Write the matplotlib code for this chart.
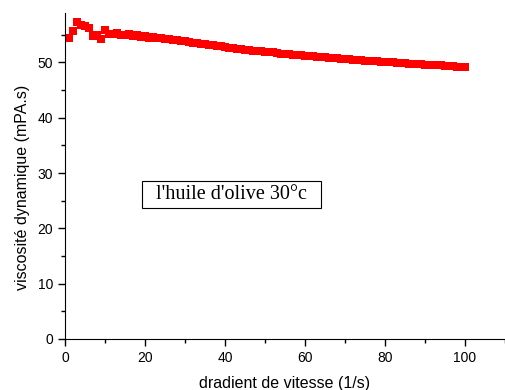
import numpy as np
import matplotlib.pyplot as plt
from matplotlib.ticker import MultipleLocator

plt.rcParams["font.family"] = ["Liberation Sans", "DejaVu Sans"]

# shear rate (1/s) and dynamic viscosity (mPa.s)
shear_rate = list(range(1, 101))
viscosity = [
    54.5, 55.6, 57.3, 56.7, 56.6, 56.3, 54.8, 54.9, 54.3, 55.8,
    55.2, 55.1, 55.4, 54.9, 55.0, 55.2, 54.7, 54.9, 54.6, 54.7,
    54.5, 54.6, 54.4, 54.4, 54.2, 54.2, 54.0, 54.0, 53.9, 53.8,
    53.7, 53.6, 53.5, 53.4, 53.3, 53.2, 53.1, 53.0, 52.9, 52.8,
    52.7, 52.6, 52.5, 52.4, 52.3, 52.25, 52.15, 52.1, 52.0, 51.9,
    51.85, 51.8, 51.7, 51.6, 51.55, 51.5, 51.4, 51.35, 51.3, 51.2,
    51.15, 51.1, 51.05, 51.0, 50.9, 50.85, 50.8, 50.75, 50.7, 50.6,
    50.55, 50.5, 50.45, 50.4, 50.35, 50.3, 50.25, 50.2, 50.15, 50.1,
    50.05, 50.0, 49.95, 49.9, 49.85, 49.8, 49.75, 49.7, 49.65, 49.6,
    49.55, 49.5, 49.5, 49.45, 49.4, 49.35, 49.3, 49.25, 49.2, 49.15,
]

fig = plt.figure(figsize=(5.05, 3.9), dpi=100)
ax = fig.add_axes([0.1287, 0.1308, 0.8713, 0.8367])

ax.plot(shear_rate, viscosity, linestyle="none", marker="s",
        markersize=5.5, color="red", markeredgewidth=0)

ax.set_xlim(0, 110)
ax.set_ylim(0, 59)
ax.xaxis.set_major_locator(MultipleLocator(20))
ax.xaxis.set_minor_locator(MultipleLocator(10))
ax.yaxis.set_major_locator(MultipleLocator(10))
ax.yaxis.set_minor_locator(MultipleLocator(5))
ax.tick_params(which="both", direction="out", labelsize=10, width=1)
ax.tick_params(which="major", length=5)
ax.tick_params(which="minor", length=3)

ax.spines["top"].set_visible(False)
ax.spines["right"].set_visible(False)

ax.set_xlabel("dradient de vitesse (1/s)", fontsize=11.5, labelpad=8)
ax.set_ylabel("viscosité dynamique (mPA.s)", fontsize=11.5)
ax.yaxis.set_label_coords(-0.0795, 0.464)

ax.text(41.7, 26.1, "  l'huile d'olive 30°c  ", ha="center", va="center",
        fontsize=14.5, family=["Liberation Serif", "DejaVu Serif"],
        bbox=dict(boxstyle="square,pad=0.2", fc="white", ec="black", lw=0.8))

fig.savefig("out.png", dpi=100)
